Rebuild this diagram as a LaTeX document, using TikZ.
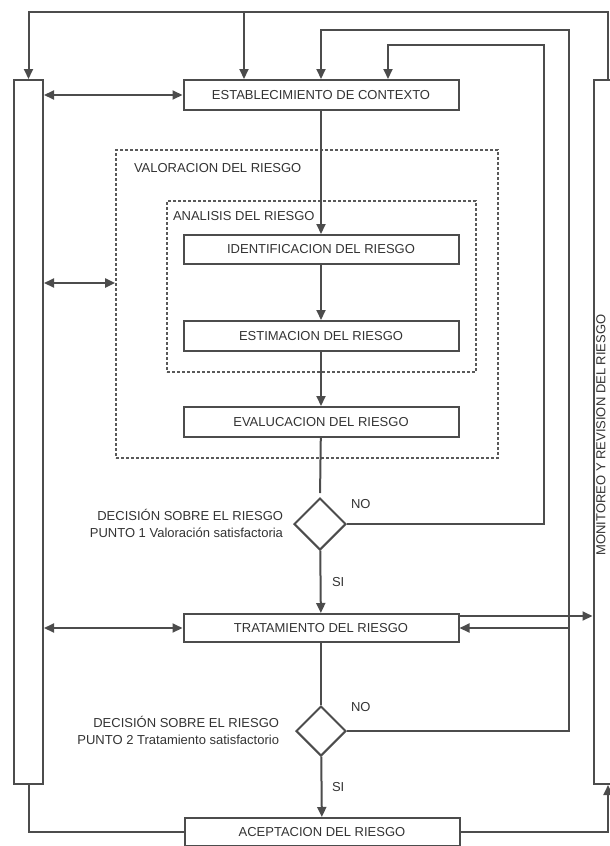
\documentclass[tikz,border=0pt]{standalone}
\usepackage{fontspec}
\setmainfont{Liberation Sans}
\usetikzlibrary{arrows.meta,shapes.geometric}

\begin{document}
\begin{tikzpicture}[
            x=1pt, y=-1pt,
            line width=2pt,
            every node/.style={font=\fontsize{13}{17}\selectfont, text=black!80},
            box/.style={draw=black!70, rectangle, minimum width=275pt, minimum height=30pt, inner sep=0pt},
            bar/.style={draw=black!70, rectangle, minimum width=29pt, minimum height=704pt, inner sep=0pt},
            area/.style={draw=black!65, dash pattern=on 3pt off 2pt, line width=1.7pt, rectangle, inner sep=0pt},
            decision/.style={draw=black!70, diamond, minimum width=52pt, minimum height=52pt, inner sep=0pt},
            tag/.style={inner sep=0pt, anchor=west},
            note/.style={inner sep=0pt, anchor=east, align=right},
            link/.style={draw=black!70},
            flow/.style={link, -{Triangle[length=10pt,width=9pt]}},
            both/.style={link, {Triangle[length=10pt,width=9pt]}-{Triangle[length=10pt,width=9pt]}}
        ]
        \clip (0,0) rectangle (610,846);
        % Monitoring bars
        \node[bar] (monleft) at (28.5,432) {};
        \node[bar] (monright) at (608,432) {};
        \node[rotate=90, inner sep=0pt] (monlabel) at (601,435) {MONITOREO Y REVISION DEL RIESGO};
        % Assessment areas
        \node[area, minimum width=382pt, minimum height=308pt] (valor) at (307,304) {};
        \node[area, minimum width=309pt, minimum height=171pt] (analisis) at (321.5,286.5) {};
        \node[inner sep=0pt, anchor=base west] (valorlbl) at (133,172) {VALORACION DEL RIESGO};
        \node[inner sep=0pt, anchor=base west] (analisislbl) at (172,220) {ANALISIS DEL RIESGO};
        % Main flow
        \node[box] (contexto) at (321,95) {ESTABLECIMIENTO DE CONTEXTO};
        \node[box, minimum height=29pt] (identif) at (321,249.5) {IDENTIFICACION DEL RIESGO};
        \node[box] (estim) at (321,336) {ESTIMACION DEL RIESGO};
        \node[box] (evalu) at (321,422) {EVALUCACION DEL RIESGO};
        \node[decision] (dec1) at (320,524) {};
        \node[box, minimum height=28pt] (tratam) at (321,628) {TRATAMIENTO DEL RIESGO};
        \node[decision, minimum width=50pt, minimum height=50pt] (dec2) at (321,731) {};
        \node[box, minimum height=28pt] (acept) at (322,832) {ACEPTACION DEL RIESGO};
        % Decision texts
        \node[note] (dec1lbl) at (284,523) {DECISIÓN SOBRE EL RIESGO\\PUNTO 1 Valoración satisfactoria};
        \node[note] (dec2lbl) at (280,730) {DECISIÓN SOBRE EL RIESGO\\PUNTO 2 Tratamiento satisfactorio};
        \node[tag] (no1) at (350,504) {NO};
        \node[tag] (si1) at (331,582) {SI};
        \node[tag] (no2) at (350,707) {NO};
        \node[tag] (si2) at (331,787) {SI};
        % Helper points
        \coordinate (topline) at (0,12);
        \coordinate (retA) at (569,30);
        \coordinate (retB) at (544,45);
        \coordinate (ctxA) at ([xshift=-77pt]contexto.north);
        \coordinate (ctxC) at ([xshift=67pt]contexto.north);
        \coordinate (valorIn) at ([yshift=21pt]valor.west);
        \coordinate (tratUp) at ([yshift=12pt]tratam.east);
        % Connectors
        \draw[flow] (contexto) -- (identif);
        \draw[flow] (identif) -- (estim);
        \draw[flow] (estim) -- (evalu);
        \draw[link, shorten >=4pt] (evalu) -- (dec1.north);
        \draw[flow] (dec1) -- (tratam);
        \draw[link] (tratam) -- (dec2.north);
        \draw[flow] (dec2) -- (acept);
        \draw[flow] (monright.north) -- (monright.north |- topline) -| (monleft.north);
        \draw[flow] (ctxA |- topline) -- (ctxA);
        \draw[flow] (dec2.east) -| (retA) -| (contexto.north);
        \draw[flow] (tratam.east -| retA) -- (tratam.east);
        \draw[flow] (dec1.east) -| (retB) -| (ctxC);
        \draw[flow] (tratUp) -- (tratUp -| monright.west);
        \draw[both] (monleft.east |- contexto.west) -- (contexto.west);
        \draw[both] (monleft.east |- valorIn) -- (valorIn);
        \draw[both] (monleft.east |- tratam.west) -- (tratam.west);
        \draw[link] (monleft.south) |- (acept.west);
        \draw[flow] (acept.east) -| (monright.south);
    \end{tikzpicture}
\end{document}
